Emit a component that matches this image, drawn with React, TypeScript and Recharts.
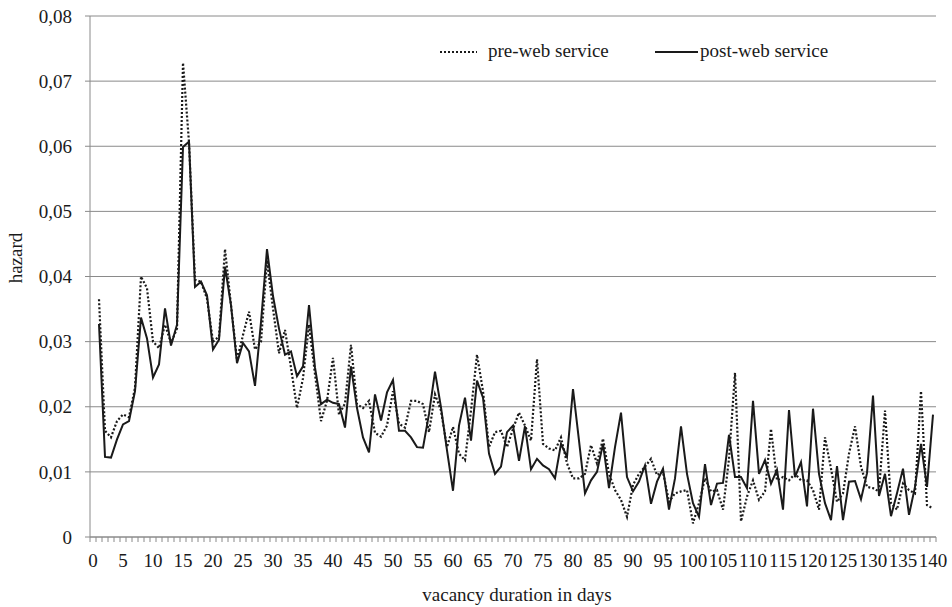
import React from 'react';
import {
  LineChart, Line, XAxis, YAxis, CartesianGrid, Legend, Label
} from 'recharts';

const FONT = '"Liberation Serif", "Times New Roman", serif';
const GRID = '#8a8a8a';
const INK = '#1a1a1a';

// days 1..140 (day 0 only opens the axis)
const DAYS = Array.from({ length: 141 }, (_, i) => i);

const PRE_WEB = [
  0.0365, 0.0163, 0.0153, 0.0178, 0.0188, 0.0184, 0.0229, 0.0400, 0.0382, 0.0300,
  0.0290, 0.0326, 0.0298, 0.0320, 0.0728, 0.0606, 0.0395, 0.0392, 0.0366, 0.0300,
  0.0308, 0.0442, 0.0356, 0.0272, 0.0310, 0.0346, 0.0288, 0.0300, 0.0425, 0.0351,
  0.0282, 0.0318, 0.0260, 0.0198, 0.0244, 0.0326, 0.0250, 0.0178, 0.0209, 0.0275,
  0.0188, 0.0205, 0.0295, 0.0204, 0.0198, 0.0209, 0.0160, 0.0154, 0.0171, 0.0224,
  0.0174, 0.0168, 0.0209, 0.0209, 0.0204, 0.0161, 0.0219, 0.0194, 0.0138, 0.0169,
  0.0128, 0.0118, 0.0194, 0.0280, 0.0224, 0.0138, 0.0161, 0.0163, 0.0138, 0.0166,
  0.0191, 0.0171, 0.0148, 0.0273, 0.0143, 0.0136, 0.0133, 0.0153, 0.0113, 0.0090,
  0.0090, 0.0097, 0.0141, 0.0113, 0.0151, 0.0097, 0.0072, 0.0057, 0.0031, 0.0080,
  0.0097, 0.0108, 0.0120, 0.0095, 0.0100, 0.0054, 0.0067, 0.0070, 0.0072, 0.0021,
  0.0052, 0.0090, 0.0070, 0.0072, 0.0042, 0.0120, 0.0252, 0.0024, 0.0062, 0.0087,
  0.0057, 0.0070, 0.0166, 0.0087, 0.0092, 0.0087, 0.0097, 0.0087, 0.0087, 0.0072,
  0.0042, 0.0153, 0.0105, 0.0054, 0.0067, 0.0128, 0.0170, 0.0108, 0.0077, 0.0075,
  0.0070, 0.0194, 0.0052, 0.0042, 0.0082, 0.0072, 0.0067, 0.0224, 0.0049, 0.0044,
];

const POST_WEB = [
  0.0327, 0.0123, 0.0122, 0.0150, 0.0173, 0.0178, 0.0224, 0.0337, 0.0305, 0.0245,
  0.0265, 0.0351, 0.0294, 0.0326, 0.0599, 0.0607, 0.0384, 0.0392, 0.0371, 0.0288,
  0.0303, 0.0415, 0.0356, 0.0267, 0.0298, 0.0285, 0.0232, 0.0330, 0.0442, 0.0370,
  0.0320, 0.0280, 0.0285, 0.0247, 0.0262, 0.0356, 0.0260, 0.0204, 0.0211, 0.0206,
  0.0204, 0.0168, 0.0262, 0.0198, 0.0153, 0.0130, 0.0219, 0.0179, 0.0222, 0.0241,
  0.0163, 0.0163, 0.0153, 0.0138, 0.0137, 0.0189, 0.0254, 0.0199, 0.0133, 0.0071,
  0.0171, 0.0214, 0.0148, 0.0240, 0.0214, 0.0128, 0.0097, 0.0108, 0.0161, 0.0171,
  0.0117, 0.0170, 0.0104, 0.0120, 0.0110, 0.0104, 0.0090, 0.0143, 0.0123, 0.0227,
  0.0148, 0.0067, 0.0087, 0.0100, 0.0143, 0.0075, 0.0138, 0.0191, 0.0092, 0.0070,
  0.0085, 0.0110, 0.0051, 0.0085, 0.0105, 0.0042, 0.0090, 0.0170, 0.0097, 0.0052,
  0.0031, 0.0112, 0.0049, 0.0082, 0.0083, 0.0157, 0.0092, 0.0092, 0.0075, 0.0209,
  0.0097, 0.0118, 0.0082, 0.0103, 0.0042, 0.0195, 0.0092, 0.0115, 0.0047, 0.0197,
  0.0097, 0.0052, 0.0026, 0.0109, 0.0026, 0.0085, 0.0086, 0.0058, 0.0098, 0.0217,
  0.0063, 0.0097, 0.0032, 0.0067, 0.0105, 0.0034, 0.0077, 0.0143, 0.0077, 0.0188,
];

const X_LABELS = [0, 5, 10, 15, 20, 25, 30, 35, 40, 45, 50, 55, 60, 65, 70,
  75, 80, 85, 90, 95, 100, 105, 110, 115, 120, 125, 130, 135, 140];
const Y_TICKS = [0, 0.01, 0.02, 0.03, 0.04, 0.05, 0.06, 0.07, 0.08];

const data = DAYS.map((day) => ({
  day,
  pre: day === 0 ? null : PRE_WEB[day - 1],
  post: day === 0 ? null : POST_WEB[day - 1],
}));

// tick marks sit between days, labels every 5 days
const X_TICKS = [...DAYS.map((d) => d - 0.5), 140.5, ...X_LABELS].sort((a, b) => a - b);

const XTick = (props: any) => {
  const { x, y, payload } = props;
  const v = payload.value;
  if (v % 1 !== 0) {
    return <line x1={x} x2={x} y1={y} y2={y + 5} stroke={GRID} />;
  }
  return (
    <text x={x} y={y + 30} textAnchor="middle" fontSize={19} fontFamily={FONT} fill={INK}>
      {v}
    </text>
  );
};

const fmtY = (v: number) => (v === 0 ? '0' : v.toFixed(2).replace('.', ','));

const LegendBox = () => (
  <svg width={430} height={30}>
    <line x1={10} x2={47} y1={15} y2={15} stroke={INK} strokeWidth={2} strokeDasharray="2 2" />
    <text x={58} y={20} fontSize={19} fontFamily={FONT} fill={INK}>pre-web service</text>
    <line x1={225} x2={268} y1={15} y2={15} stroke={INK} strokeWidth={2} />
    <text x={270} y={20} fontSize={19} fontFamily={FONT} fill={INK}>post-web service</text>
  </svg>
);

export default function App() {
  return (
    <div style={{ position: 'absolute', left: 0, top: 0, background: '#fff' }}>
      <LineChart
        width={952}
        height={607}
        data={data}
        margin={{ top: 16, right: 16, bottom: 0, left: 0 }}
        style={{ fontFamily: FONT }}
      >
        <CartesianGrid vertical={false} stroke={GRID} strokeWidth={1} />
        <XAxis
          dataKey="day"
          type="number"
          domain={[-0.5, 140.5]}
          ticks={X_TICKS}
          interval={0}
          tick={<XTick />}
          tickLine={false}
          tickSize={0}
          tickMargin={0}
          height={70}
          axisLine={{ stroke: GRID }}
        >
          <Label
            content={() => (
              <text x={517} y={601} textAnchor="middle" fontSize={19} fontFamily={FONT} fill={INK}>
                vacancy duration in days
              </text>
            )}
          />
        </XAxis>
        <YAxis
          domain={[0, 0.08]}
          ticks={Y_TICKS}
          tickFormatter={fmtY}
          width={90}
          tickSize={5}
          tickMargin={13}
          interval={0}
          tick={{ fontSize: 19, fontFamily: FONT, fill: INK }}
          tickLine={{ stroke: GRID }}
          axisLine={{ stroke: GRID }}
        >
          <Label
            content={() => (
              <text
                x={22}
                y={258}
                transform="rotate(-90, 22, 258)"
                textAnchor="middle"
                fontSize={19}
                fontFamily={FONT}
                fill={INK}
              >
                hazard
              </text>
            )}
          />
        </YAxis>
        <YAxis yAxisId="border" orientation="right" width={0} tick={false} tickLine={false} axisLine={{ stroke: GRID }} />
        <Legend
          verticalAlign="middle"
          layout="horizontal"
          content={() => <LegendBox />}
          wrapperStyle={{ left: 430, top: 37, width: 430, height: 30 }}
        />
        <Line
          type="linear"
          dataKey="pre"
          name="pre-web service"
          stroke={INK}
          strokeWidth={2.2}
          strokeDasharray="2 2"
          dot={false}
          isAnimationActive={false}
        />
        <Line
          type="linear"
          dataKey="post"
          name="post-web service"
          stroke={INK}
          strokeWidth={2}
          dot={false}
          isAnimationActive={false}
        />
      </LineChart>
    </div>
  );
}
